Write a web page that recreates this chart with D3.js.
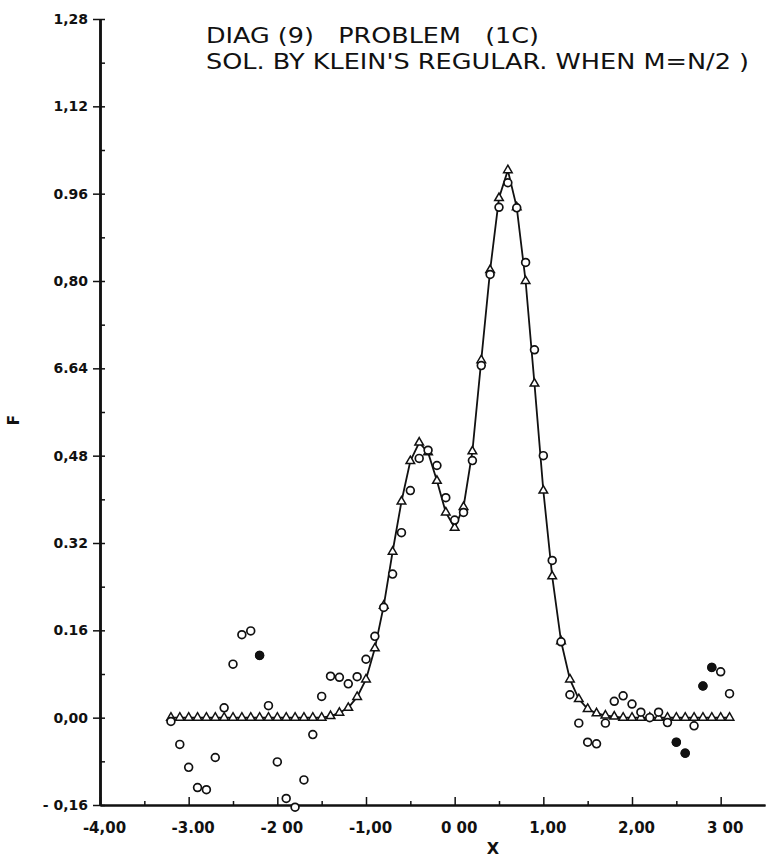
<!DOCTYPE html>
<html>
<head>
<meta charset="utf-8">
<script src="https://cdn.jsdelivr.net/npm/d3@7"></script>
<style>
body { margin: 0; background: #fff; }
svg { display: block; }
text { font-family: "DejaVu Sans", sans-serif; fill: #111; }
</style>
</head>
<body>
<script>
// abscissae shared by both solutions
let xs = [-3.2, -3.1, -3.0, -2.9, -2.8, -2.7, -2.6, -2.5, -2.4, -2.3, -2.2, -2.1, -2.0, -1.9, -1.8, -1.7,
	-1.6, -1.5, -1.4, -1.3, -1.2, -1.1, -1.0, -0.9, -0.8, -0.7, -0.6, -0.5, -0.4, -0.3, -0.2, -0.1,
	0.0, 0.1, 0.2, 0.3, 0.4, 0.5, 0.6, 0.7, 0.8, 0.9, 1.0, 1.1, 1.2, 1.3, 1.4, 1.5,
	1.6, 1.7, 1.8, 1.9, 2.0, 2.1, 2.2, 2.3, 2.4, 2.5, 2.6, 2.7, 2.8, 2.9, 3.0, 3.1]

// exact solution (line + triangles)
let exactF = [0, 0, 0, 0, 0, 0, 0, 0, 0, 0, 0, 0, 0, 0, 0, 0,
	0, 0, 0.003, 0.009, 0.018, 0.038, 0.070, 0.127, 0.205, 0.304, 0.396, 0.470, 0.504, 0.486, 0.434, 0.376,
	0.348, 0.386, 0.488, 0.655, 0.820, 0.952, 1.003, 0.935, 0.800, 0.612, 0.416, 0.259, 0.140, 0.070, 0.034, 0.016,
	0.008, 0.004, 0.002, 0, 0, 0, 0, 0, 0, 0, 0, 0, 0, 0, 0, 0]

// regularized solution (open circles)
let numF = [-0.007, -0.049, -0.091, -0.128, -0.132, -0.073, 0.018, 0.098, 0.152, 0.159, 0.114, 0.022, -0.081, -0.148, -0.164, -0.114,
	-0.031, 0.039, 0.076, 0.074, 0.062, 0.075, 0.107, 0.149, 0.202, 0.263, 0.339, 0.416, 0.475, 0.490, 0.462, 0.403,
	0.362, 0.376, 0.471, 0.645, 0.812, 0.935, 0.980, 0.934, 0.834, 0.674, 0.480, 0.288, 0.139, 0.042, -0.010, -0.045,
	-0.048, -0.010, 0.030, 0.040, 0.025, 0.010, 0.000, 0.010, -0.009, -0.045, -0.065, -0.015, 0.058, 0.092, 0.084, 0.044]

// points printed as solid dots
let filledX = [-2.2, 2.5, 2.6, 2.8, 2.9]
let filledF = [0.114, -0.045, -0.065, 0.058, 0.092]

let xTicks = [-4, -3, -2, -1, 0, 1, 2, 3]
let xTickLabels = ['-4,00', '-3.00', '-2 00', '-1,00', '0 00', '1,00', '2,00', '3 00']
let xMinor = [-3.5, -2.5, -1.5, -0.5, 0.5, 1.5, 2.5]
let yTicks = [-0.16, 0, 0.16, 0.32, 0.48, 0.64, 0.80, 0.96, 1.12, 1.28]
let yTickLabels = ['- 0,16', '0,00', '0.16', '0.32', '0,48', '6.64', '0,80', '0.96', '1,12', '1,28']
let yMinor = [-0.08, 0.08, 0.24, 0.40, 0.56, 0.72, 0.88, 1.04, 1.20]

let svg = d3.select('body').append('svg')
	.attr('width', 767).attr('height', 860)

let x = d3.scaleLinear().domain([-4, 3.5]).range([100, 765])
let y = d3.scaleLinear().domain([-0.16, 1.28]).range([805, 19])

// x axis
let gx = svg.append('g').attr('transform', `translate(0,${y(-0.16)})`)
gx.call(d3.axisBottom(x).tickValues(xTicks).tickSize(-8).tickSizeOuter(0)
	.tickPadding(17).tickFormat((d, i) => xTickLabels[i]))
gx.append('g').call(d3.axisBottom(x).tickValues(xMinor).tickSize(-4).tickSizeOuter(0).tickFormat(''))
gx.selectAll('path.domain').attr('stroke', '#111').attr('stroke-width', 2.2)
gx.selectAll('line').attr('stroke', '#111').attr('stroke-width', 1.5)
gx.selectAll('text').attr('font-size', 15).attr('font-weight', 'bold').attr('fill', '#111').attr('dx', 4)

// y axis
let gy = svg.append('g').attr('transform', `translate(${x(-4)},0)`)
gy.call(d3.axisLeft(y).tickValues(yTicks).tickSize(7).tickSizeOuter(0)
	.tickPadding(5).tickFormat((d, i) => yTickLabels[i]))
gy.append('g').call(d3.axisLeft(y).tickValues(yTicks).tickSize(-5).tickSizeOuter(0).tickFormat(''))
gy.append('g').call(d3.axisLeft(y).tickValues(yMinor).tickSize(-5).tickSizeOuter(0).tickFormat(''))
gy.selectAll('path.domain').attr('stroke', '#111').attr('stroke-width', 2.2)
gy.selectAll('line').attr('stroke', '#111').attr('stroke-width', 1.5)
gy.selectAll('text').attr('font-size', 14).attr('font-weight', 'bold').attr('fill', '#111')

// axis titles
svg.append('text').attr('x', 493).attr('y', 854).attr('text-anchor', 'middle')
	.attr('font-size', 16).attr('font-weight', 'bold').text('X')
svg.append('text').attr('transform', 'translate(19,420) rotate(-90)').attr('text-anchor', 'middle')
	.attr('font-size', 15).attr('font-weight', 'bold').text('F')

// title
svg.append('text').attr('x', 206).attr('y', 43).attr('font-size', 22)
	.style('white-space', 'pre').attr('textLength', 333).attr('lengthAdjust', 'spacingAndGlyphs')
	.text('DIAG (9)   PROBLEM   (1C)')
svg.append('text').attr('x', 206).attr('y', 69).attr('font-size', 22)
	.style('white-space', 'pre').attr('textLength', 543).attr('lengthAdjust', 'spacingAndGlyphs')
	.text("SOL. BY KLEIN'S REGULAR. WHEN M=N/2 )")

// exact curve
let exact = d3.zip(xs, exactF)
svg.append('path').datum(exact)
	.attr('fill', 'none').attr('stroke', '#111').attr('stroke-width', 1.8)
	.attr('d', d3.line().x(d => x(d[0])).y(d => y(d[1])))

svg.append('g').selectAll('path').data(exact).join('path')
	.attr('transform', d => `translate(${x(d[0])},${y(d[1])})`)
	.attr('d', d3.symbol(d3.symbolTriangle, 32))
	.attr('fill', '#fff').attr('stroke', '#111').attr('stroke-width', 1.5)

// regularized solution
svg.append('g').selectAll('circle').data(d3.zip(xs, numF)).join('circle')
	.attr('cx', d => x(d[0])).attr('cy', d => y(d[1])).attr('r', 3.9)
	.attr('fill', '#fff').attr('stroke', '#111').attr('stroke-width', 1.7)

svg.append('g').selectAll('circle').data(d3.zip(filledX, filledF)).join('circle')
	.attr('cx', d => x(d[0])).attr('cy', d => y(d[1])).attr('r', 4.6)
	.attr('fill', '#111')
</script>
</body>
</html>
